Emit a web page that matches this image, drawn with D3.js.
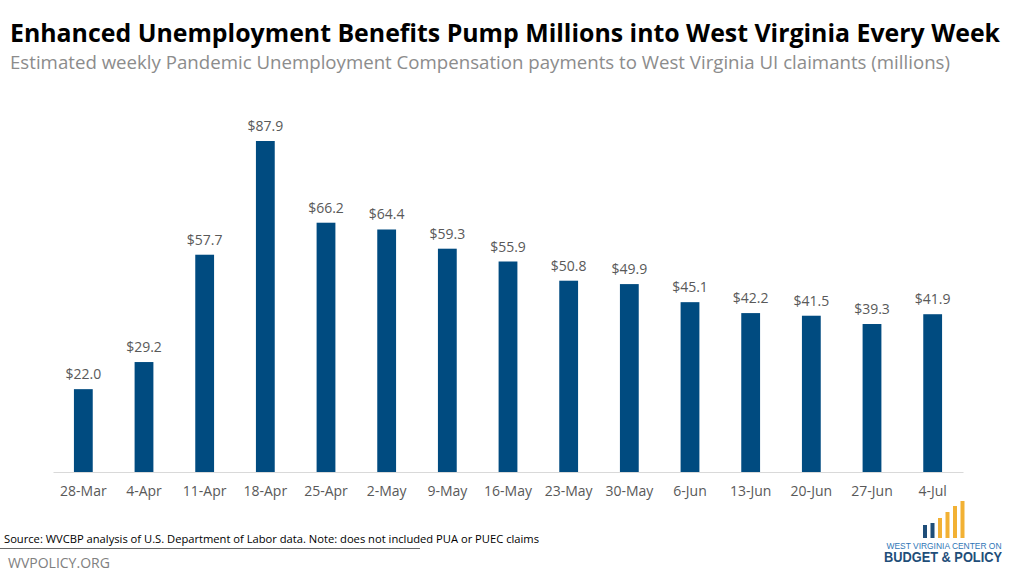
<!DOCTYPE html>
<html><head><meta charset="utf-8">
<script src="https://cdn.jsdelivr.net/npm/d3@7"></script>
<style>body{margin:0;background:#fff}svg{display:block}</style>
</head><body>
<svg id="c" width="1024" height="576"></svg>
<script>
const categories = ["28-Mar","4-Apr","11-Apr","18-Apr","25-Apr","2-May","9-May","16-May","23-May","30-May","6-Jun","13-Jun","20-Jun","27-Jun","4-Jul"];
const values = [22.0,29.2,57.7,87.9,66.2,64.4,59.3,55.9,50.8,49.9,45.1,42.2,41.5,39.3,41.9];
const title = "Enhanced Unemployment Benefits Pump Millions into West Virginia Every Week";
const subtitle = "Estimated weekly Pandemic Unemployment Compensation payments to West Virginia UI claimants (millions)";
const source = "Source: WVCBP analysis of U.S. Department  of Labor data. Note: does not included PUA or PUEC claims";

const svg = d3.select("#c");
const font = "'Open Sans', 'Noto Sans', sans-serif";

svg.append("text").attr("x",10).attr("y",42).attr("font-family",font).attr("font-weight",700)
  .attr("font-size",25).attr("fill","#000").attr("textLength",990).attr("lengthAdjust","spacingAndGlyphs").text(title);
svg.append("text").attr("x",10).attr("y",69).attr("font-family",font)
  .attr("font-size",18).attr("fill","#8c8c8c").attr("textLength",940).attr("lengthAdjust","spacingAndGlyphs").text(subtitle);

const x = d3.scaleBand().domain(categories).range([53,963]).paddingInner(0.69).paddingOuter(0.345);
const y = d3.scaleLinear().domain([0,87.9]).range([472,141]);

svg.append("g").selectAll("rect").data(values).join("rect")
  .attr("x",(d,i)=>x(categories[i])).attr("width",x.bandwidth())
  .attr("y",d=>y(d)).attr("height",d=>y(0)-y(d)).attr("fill","#004b80");

svg.append("g").selectAll("text").data(values).join("text")
  .attr("x",(d,i)=>x(categories[i])+x.bandwidth()/2).attr("y",d=>y(d)-10)
  .attr("text-anchor","middle").attr("font-family",font).attr("font-size",14).attr("fill","#595959")
  .text(d=>"$"+d.toFixed(1));

const ax = svg.append("g").attr("transform","translate(0,472)")
  .call(d3.axisBottom(x).tickSize(0).tickPadding(14));
ax.select(".domain").attr("stroke","#d9d9d9").attr("stroke-width",1.2);
ax.selectAll("text").attr("font-family",font).attr("font-size",14).attr("fill","#595959");

svg.append("text").attr("x",4).attr("y",543).attr("font-family",font).attr("font-size",11)
  .attr("fill","#000").attr("textLength",535).attr("lengthAdjust","spacingAndGlyphs").text(source);
svg.append("line").attr("x1",0).attr("x2",420).attr("y1",548.5).attr("y2",548.5).attr("stroke","#404040").attr("stroke-width",0.8);
svg.append("text").attr("x",8).attr("y",568).attr("font-family",font).attr("font-size",14)
  .attr("fill","#808080").text("WVPOLICY.ORG");

// logo
const logo = svg.append("g");
const lb = [{x:923,h:13,c:"#1f4e79"},{x:930.5,h:15,c:"#1f4e79"},{x:938,h:20,c:"#f2b134"},{x:945.5,h:26,c:"#f2b134"},{x:953,h:32,c:"#f2b134"},{x:960.5,h:37,c:"#f2b134"}];
logo.selectAll("rect").data(lb).join("rect").attr("x",d=>d.x).attr("width",4).attr("y",d=>538-d.h).attr("height",d=>d.h).attr("fill",d=>d.c);
logo.append("text").attr("x",944).attr("y",549).attr("text-anchor","middle").attr("font-family","'Liberation Sans', sans-serif")
  .attr("font-size",9).attr("fill","#2e75b6").attr("textLength",115).attr("lengthAdjust","spacingAndGlyphs").text("WEST VIRGINIA CENTER ON");
logo.append("text").attr("x",943).attr("y",562).attr("text-anchor","middle").attr("font-family","'Liberation Sans', sans-serif")
  .attr("font-weight",700).attr("font-size",14).attr("fill","#1f4e79").attr("textLength",118).attr("lengthAdjust","spacingAndGlyphs").text("BUDGET & POLICY");
</script>
</body></html>
